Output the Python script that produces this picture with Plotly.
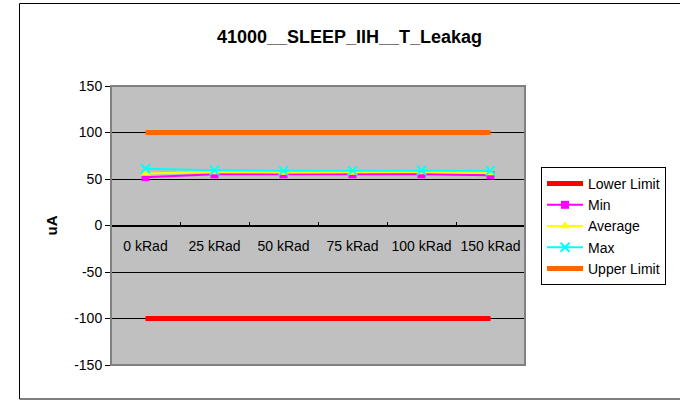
import plotly.graph_objects as go

categories = ["0 kRad", "25 kRad", "50 kRad", "75 kRad", "100 kRad", "150 kRad"]
lower_limit = [-100, -100, -100, -100, -100, -100]
min_vals = [52, 55, 55, 55, 55, 54]
avg_vals = [56, 57.5, 57, 57, 57.5, 56.5]
max_vals = [61, 59.5, 59, 59, 59.5, 59]
upper_limit = [100, 100, 100, 100, 100, 100]
y_ticks = [-150, -100, -50, 0, 50, 100, 150]
y_tick_labels = ["-150", "-100", "-50", "0", "50", "100", "150"]

FONT = "Arial, Liberation Sans, sans-serif"

# plot area in pixels
L, R, T, B = 111, 525, 86, 365
W, H = 680, 400


def px_x(p):
    return (p - L) / (R - L)


def px_y(p):
    return (B - p) / (B - T)


fig = go.Figure()
fig.add_trace(go.Scatter(x=categories, y=lower_limit, name="Lower Limit", mode="lines",
                         line=dict(color="#FF0000", width=5)))
fig.add_trace(go.Scatter(x=categories, y=min_vals, name="Min", mode="lines+markers",
                         line=dict(color="#FF00FF", width=2),
                         marker=dict(symbol="square", size=8, color="#FF00FF")))
fig.add_trace(go.Scatter(x=categories, y=avg_vals, name="Average", mode="lines+markers",
                         line=dict(color="#FFFF00", width=2),
                         marker=dict(symbol="triangle-up", size=9, color="#FFFF00")))
fig.add_trace(go.Scatter(x=categories, y=max_vals, name="Max", mode="lines+markers",
                         line=dict(color="#00FFFF", width=2),
                         marker=dict(symbol="x-thin", size=9, color="#00FFFF",
                                     line=dict(color="#00FFFF", width=2))))
fig.add_trace(go.Scatter(x=categories, y=upper_limit, name="Upper Limit", mode="lines",
                         line=dict(color="#FF6600", width=5)))

fig.update_layout(
    width=W, height=H,
    margin=dict(l=L, r=W - R, t=T, b=H - B),
    paper_bgcolor="white",
    plot_bgcolor="#C0C0C0",
    font=dict(family=FONT, size=14, color="black"),
    title=dict(text="<b>41000__SLEEP_IIH__T_Leakag</b>", x=349.5 / W,
               xanchor="center", y=1 - 37 / H, yanchor="middle",
               font=dict(family=FONT, size=18, color="black")),
    showlegend=True,
    legend=dict(x=px_x(541), y=px_y(167), xanchor="left", yanchor="top",
                bgcolor="white", bordercolor="black", borderwidth=1,
                font=dict(family=FONT, size=14, color="black"),
                tracegroupgap=0, itemwidth=36),
    xaxis=dict(
        type="category", anchor="free", position=0.5, range=[-0.5, 5.5],
        showline=True, linecolor="black", linewidth=1,
        ticks="inside", ticklen=4, tickcolor="black", tickson="boundaries",
        showgrid=False, zeroline=False, ticklabelstandoff=8,
        tickfont=dict(family=FONT, size=14, color="black"),
    ),
    yaxis=dict(
        range=[-150, 150], tickvals=y_ticks, ticktext=y_tick_labels, domain=[0, 1],
        showline=True, linecolor="black", linewidth=1,
        ticks="outside", ticklen=5, tickcolor="black",
        showgrid=True, gridcolor="black", gridwidth=1, zeroline=False,
        tickfont=dict(family=FONT, size=14, color="black"),
        title=dict(text="<b>uA</b>", standoff=12,
                   font=dict(family=FONT, size=15, color="black")),
    ),
)

# plot area border
fig.add_shape(type="rect", xref="paper", yref="paper", x0=0, x1=1, y0=0, y1=1,
              line=dict(color="#808080", width=2), layer="above")
# chart outer frame
fig.add_shape(type="rect", xref="paper", yref="paper",
              x0=px_x(19.5), x1=px_x(700), y0=px_y(399), y1=px_y(3.5),
              line=dict(color="black", width=1))

fig.write_html("out.html", config={"displayModeBar": False},
               post_script="document.body.style.margin='0';")
